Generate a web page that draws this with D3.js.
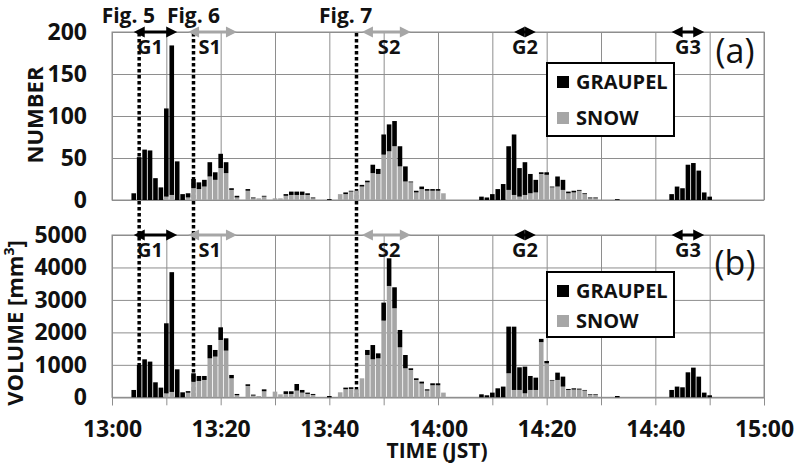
<!DOCTYPE html>
<html>
<head>
<meta charset="utf-8">
<script src="https://cdn.jsdelivr.net/npm/d3@7"></script>
<style>
  body { margin: 0; background: #fff; }
  svg text { font-family: "Open Sans", "Noto Sans", sans-serif; }
</style>
</head>
<body>
<svg id="chart" width="795" height="463"></svg>
<script>
// minutes after 13:00 JST that have particles
const minutes    = [4, 5, 6, 7, 8, 9, 10, 11, 12, 13, 14, 15, 16, 17, 18, 19, 20, 21, 22, 23, 25, 26, 27, 28, 30, 31, 32, 33, 34, 35, 36, 37, 40,
                    42, 43, 44, 45, 46, 47, 48, 49, 50, 51, 52, 53, 54, 55, 56, 57, 58, 59, 60, 61,
                    68, 69, 70, 71, 72, 73, 74, 75, 76, 77, 78, 79, 80, 81, 82, 83, 84, 85, 86, 87, 88, 89, 93,
                    103, 104, 105, 106, 107, 108, 109, 110]
const numGraupel = [8, 51, 60, 59, 26, 15, 105, 178, 46, 7, 5, 11, 8, 8, 17, 9, 17, 13, 2, 2, 2, 1, 0, 1, 0, 0, 2, 4, 4, 4, 2, 1, 1,
                    0, 2, 1, 0, 2, 2, 10, 6, 24, 32, 30, 24, 18, 1, 2, 3, 2, 2, 2, 0,
                    4, 3, 7, 13, 19, 52, 72, 34, 39, 23, 15, 2, 3, 1, 12, 12, 2, 2, 1, 1, 1, 1, 1,
                    7, 16, 14, 42, 44, 35, 9, 4]
const numSnow    = [0, 0, 0, 0, 0, 0, 4, 6, 0, 0, 3, 14, 13, 16, 28, 24, 38, 32, 12, 3, 11, 2, 2, 4, 2, 2, 5, 6, 6, 6, 6, 2, 0,
                    7, 7, 10, 11, 16, 21, 32, 31, 54, 58, 64, 40, 22, 21, 9, 13, 11, 11, 11, 8,
                    0, 0, 0, 0, 0, 12, 6, 4, 6, 8, 9, 31, 30, 15, 16, 12, 8, 9, 11, 7, 2, 2, 0,
                    0, 0, 0, 0, 0, 0, 0, 0]
const volGraupel = [226, 996, 1170, 1100, 462, 298, 2160, 3690, 862, 154, 50, 257, 154, 123, 410, 205, 390, 380, 103, 40, 51, 30, 0, 60, 0, 0, 82, 82, 205, 82, 40, 30, 40,
                    0, 50, 50, 0, 0, 154, 440, 154, 555, 852, 647, 534, 410, 51, 51, 60, 40, 60, 60, 0,
                    92, 62, 144, 277, 330, 1438, 1950, 698, 822, 431, 380, 100, 72, 20, 226, 308, 30, 40, 30, 20, 20, 20, 40,
                    226, 330, 308, 770, 914, 637, 144, 62]
const volSnow    = [0, 0, 0, 0, 0, 0, 120, 165, 0, 0, 140, 483, 503, 534, 1200, 1253, 1766, 1438, 585, 63, 350, 52, 40, 185, 175, 92, 103, 103, 205, 144, 104, 73, 0,
                    154, 248, 258, 246, 585, 1304, 1170, 1200, 2362, 3430, 2742, 1540, 893, 842, 534, 423, 206, 371, 371, 144,
                    0, 0, 0, 0, 0, 740, 226, 226, 123, 226, 226, 1700, 1047, 514, 534, 329, 227, 237, 237, 206, 72, 72, 0,
                    0, 0, 0, 0, 0, 0, 0, 0]

// tick labels
const numberTicks = [0, 50, 100, 150, 200]
const volumeTicks = [0, 1000, 2000, 3000, 4000, 5000]
const timeLabels = ['13:00', '13:20', '13:40', '14:00', '14:20', '14:40', '15:00']

// annotated periods (minutes after 13:00)
const events = ['G1', 'S1', 'S2', 'G2', 'G3']
const eventStart = [4.5, 14.7, 46.6, 74.5, 103.1]
const eventEnd = [12.8, 23.0, 55.5, 78.5, 109.2]
const eventKind = ['graupel', 'snow', 'snow', 'graupel', 'graupel']
const eventLabelAt = [7.9, 18.8, 51.0, 76.5, 106.4]

// times shown in other figures
const figLabels = ['Fig. 5', 'Fig. 6', 'Fig. 7']
const figMinutes = [5, 15, 45]
const figLabelAt = [3.9, 15.3, 43.8]

const colors = {graupel: '#000000', snow: '#a6a6a6', grid: '#8e8e8e'}

const svg = d3.select('#chart')
const t = m => d3.timeMinute.offset(new Date(2020, 0, 1, 13, 0), m)

// shared horizontal time axis
const xScale = d3.scaleTime()
    .domain([t(0), t(120)])
    .range([112, 764])

const panels = [
    {top: 32, bottom: 200, max: 200, ticks: numberTicks, g: numGraupel, s: numSnow, tag: '(a)', tagY: 63,
        legend: {y: 63, h: 73, r1: 82, r2: 118}},
    {top: 235, bottom: 397.3, max: 5000, ticks: volumeTicks, g: volGraupel, s: volSnow, tag: '(b)', tagY: 275,
        legend: {y: 272, h: 65, r1: 291, r2: 321}}
]
panels.forEach(p => {
    p.y = d3.scaleLinear().domain([0, p.max]).range([p.bottom, p.top])
})

// grids and frames
panels.forEach(p => {
    const h = p.bottom - p.top
    svg.append('g')
        .attr('transform', `translate(0, ${p.bottom})`)
        .call(d3.axisBottom(xScale).ticks(d3.timeMinute.every(10)).tickSize(-h).tickFormat(''))
        .call(g => g.select('.domain').remove())
        .call(g => g.selectAll('line').attr('stroke', colors.grid))
    svg.append('g')
        .attr('transform', 'translate(112, 0)')
        .call(d3.axisLeft(p.y).tickValues(p.ticks).tickSize(-652).tickFormat(''))
        .call(g => g.select('.domain').remove())
        .call(g => g.selectAll('line').attr('stroke', colors.grid))
    svg.append('rect')
        .attr('x', 112).attr('y', p.top)
        .attr('width', 652).attr('height', h)
        .attr('fill', 'none').attr('stroke', colors.grid)

    // y-axis numbers
    svg.append('g')
        .attr('transform', 'translate(112, 0)')
        .call(d3.axisLeft(p.y).tickValues(p.ticks).tickSize(0).tickPadding(25).tickFormat(d3.format('d')))
        .call(g => g.select('.domain').remove())
        .call(g => g.selectAll('text')
            .attr('font-size', 23).attr('font-weight', 'bold').attr('fill', '#111')
            .attr('font-family', '"Open Sans", sans-serif'))
})

// bottom axis with tick marks every 10 min and labels every 20 min
const bottomAxis = svg.append('g')
    .attr('transform', `translate(0, ${panels[1].bottom})`)
    .call(d3.axisBottom(xScale).ticks(d3.timeMinute.every(10)).tickSize(8)
        .tickFormat(d => timeLabels.includes(d3.timeFormat('%H:%M')(d)) && d.getMinutes() % 20 === 0 ? d3.timeFormat('%H:%M')(d) : ''))
bottomAxis.select('.domain').attr('stroke', colors.grid)
bottomAxis.selectAll('line').attr('stroke', colors.grid)
bottomAxis.selectAll('text')
    .attr('y', 40).attr('dy', 0)
    .attr('font-size', 23).attr('font-weight', 'bold').attr('fill', '#111')
    .attr('font-family', '"Open Sans", sans-serif')

// dotted lines for the times of Figs. 5-7
svg.selectAll('.figLine')
    .data(figMinutes)
    .enter().append('line')
    .attr('class', 'figLine')
    .attr('x1', d => xScale(t(d))).attr('x2', d => xScale(t(d)))
    .attr('y1', panels[0].top + 1).attr('y2', panels[1].bottom)
    .attr('stroke', '#000').attr('stroke-width', 3.5).attr('stroke-dasharray', '3.5,2.5')

svg.selectAll('.figLabel')
    .data(figLabels)
    .enter().append('text')
    .attr('class', 'figLabel')
    .attr('x', (d, i) => xScale(t(figLabelAt[i])))
    .attr('y', 22.5)
    .attr('text-anchor', 'middle')
    .attr('font-size', 21).attr('font-weight', 'bold').attr('fill', '#111')
    .text(d => d)

// stacked bars: snow at the bottom, graupel on top
const barWidth = 4.6
panels.forEach(p => {
    const rows = minutes.map((m, i) => ({m, g: p.g[i], s: p.s[i]}))
    svg.append('g').selectAll('rect')
        .data(rows.filter(d => d.s > 0))
        .enter().append('rect')
        .attr('x', d => xScale(t(d.m)) - barWidth / 2)
        .attr('width', barWidth)
        .attr('y', d => p.y(d.s))
        .attr('height', d => p.y(0) - p.y(d.s))
        .attr('fill', colors.snow)
    svg.append('g').selectAll('rect')
        .data(rows.filter(d => d.g > 0))
        .enter().append('rect')
        .attr('x', d => xScale(t(d.m)) - barWidth / 2)
        .attr('width', barWidth)
        .attr('y', d => p.y(d.s + d.g))
        .attr('height', d => p.y(d.s) - p.y(d.s + d.g))
        .attr('fill', colors.graupel)
})

// double arrows for the G/S periods
panels.forEach(p => {
    events.forEach((name, i) => {
        const xa = xScale(t(eventStart[i]))
        const xb = xScale(t(eventEnd[i]))
        const yy = p.top
        const col = colors[eventKind[i]]
        const head = 11, half = 5.5
        svg.append('line')
            .attr('x1', xa + head - 1).attr('x2', xb - head + 1)
            .attr('y1', yy).attr('y2', yy)
            .attr('stroke', col).attr('stroke-width', 3)
        svg.append('path')
            .attr('d', `M${xa},${yy} L${xa + head},${yy - half} L${xa + head},${yy + half} Z`
                + `M${xb},${yy} L${xb - head},${yy - half} L${xb - head},${yy + half} Z`)
            .attr('fill', col)
        svg.append('text')
            .attr('x', xScale(t(eventLabelAt[i])))
            .attr('y', yy + 22)
            .attr('text-anchor', 'middle')
            .attr('font-size', 20).attr('font-weight', 'bold').attr('fill', '#111')
            .text(name)
    })

    // panel tag
    svg.append('text')
        .attr('x', 735).attr('y', p.tagY)
        .attr('text-anchor', 'middle')
        .attr('font-size', 34).attr('fill', '#111')
        .text(p.tag)

    // legend
    const lg = svg.append('g')
    lg.append('rect')
        .attr('x', 547).attr('y', p.legend.y)
        .attr('width', 127).attr('height', p.legend.h)
        .attr('fill', '#fff').attr('stroke', '#000').attr('stroke-width', 2)
    ;[['GRAUPEL', colors.graupel, p.legend.r1], ['SNOW', colors.snow, p.legend.r2]].forEach(([lab, col, cy]) => {
        lg.append('rect')
            .attr('x', 557).attr('y', cy - 6)
            .attr('width', 12).attr('height', 12)
            .attr('fill', col)
        lg.append('text')
            .attr('x', 576).attr('y', cy + 7)
            .attr('font-size', 20).attr('font-weight', 'bold').attr('fill', '#111')
            .text(lab)
    })
})

// axis titles
svg.append('text')
    .attr('transform', 'translate(43, 115) rotate(-90)')
    .attr('text-anchor', 'middle')
    .attr('font-size', 22).attr('font-weight', 'bold').attr('fill', '#111')
    .text('NUMBER')

const volTitle = svg.append('text')
    .attr('transform', 'translate(23, 323) rotate(-90)')
    .attr('text-anchor', 'middle')
    .attr('font-size', 22).attr('font-weight', 'bold').attr('fill', '#111')
volTitle.append('tspan').text('VOLUME [mm')
volTitle.append('tspan').attr('font-size', 14).attr('dy', -9).text('3')
volTitle.append('tspan').attr('dy', 9).text(']')

svg.append('text')
    .attr('x', 437).attr('y', 458)
    .attr('text-anchor', 'middle')
    .attr('font-size', 21).attr('font-weight', 'bold').attr('fill', '#111')
    .text('TIME (JST)')
</script>
</body>
</html>
